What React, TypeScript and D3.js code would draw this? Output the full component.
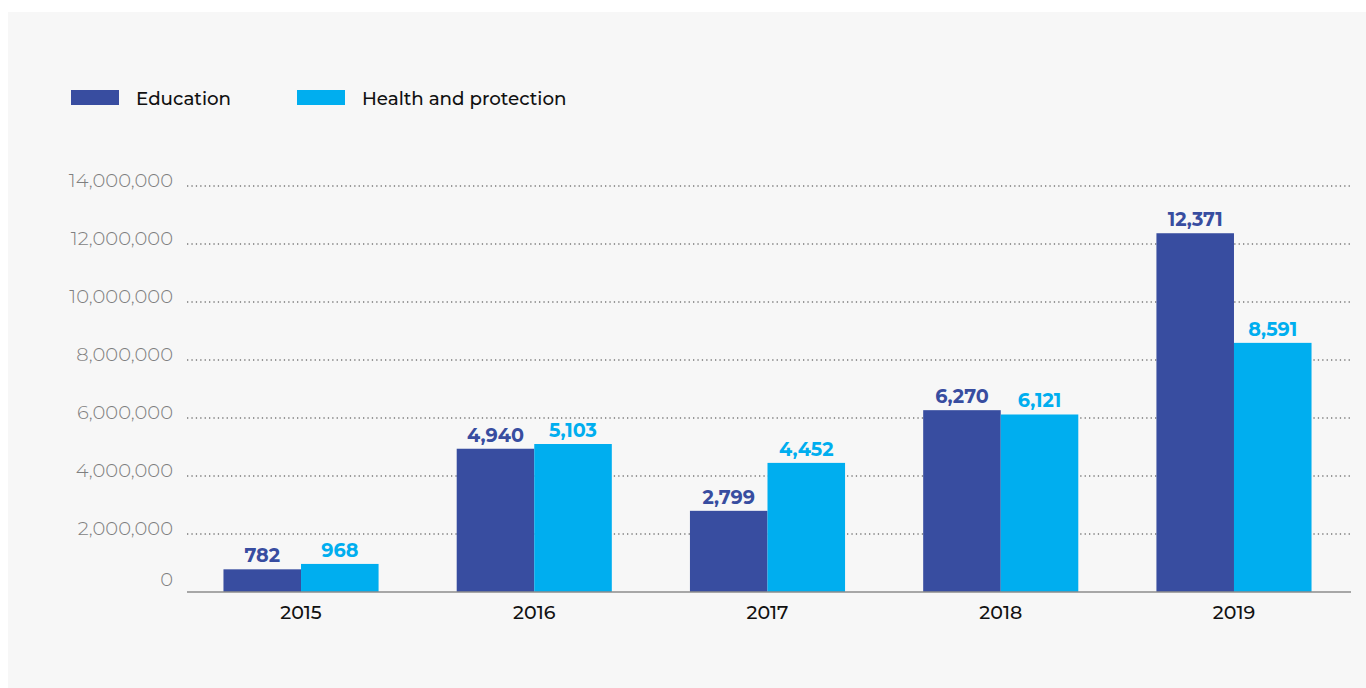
import React from "react";
import * as d3 from "d3";

const years = ["2015", "2016", "2017", "2018", "2019"];
const education = [782, 4940, 2799, 6270, 12371];
const health = [968, 5103, 4452, 6121, 8591];
const seriesNames = ["Education", "Health and protection"];
const seriesColors = ["#384da0", "#00aeef"];
const yTicks = [0, 2000000, 4000000, 6000000, 8000000, 10000000, 12000000, 14000000];

const W = 1366;
const H = 688;
const FONT = "Montserrat, Inter, 'Open Sans', sans-serif";

export default function App() {
  const x = d3
    .scaleBand<string>()
    .domain(years)
    .range([184.4, 1350.6])
    .paddingInner(0.335)
    .paddingOuter(0.1675);
  const sub = d3.scaleBand<number>().domain([0, 1]).range([0, x.bandwidth()]);
  const y = d3.scaleLinear().domain([0, 14000000]).range([592, 186]);
  const fmt = d3.format(",");
  const series = [education, health];
  const plotL = 187;
  const plotR = 1351;

  return (
    <svg
      width={W}
      height={H}
      style={{ position: "absolute", left: 0, top: 0 }}
      fontFamily={FONT}
    >
      <rect x={8} y={12} width={W - 8} height={H - 12} fill="#f7f7f7" />

      {/* legend */}
      {seriesNames.map((name, i) => {
        const lx = i === 0 ? 71 : 297;
        return (
          <g key={name}>
            <rect x={lx} y={90} width={48} height={15} fill={seriesColors[i]} />
            <text
              x={lx + 65}
              y={105}
              fontSize={18.3}
              fontWeight={500}
              fill="#111"
            >
              {name}
            </text>
          </g>
        );
      })}

      {/* gridlines */}
      {yTicks.slice(1).map((t) => (
        <line
          key={t}
          x1={plotL}
          x2={plotR}
          y1={y(t)}
          y2={y(t)}
          stroke="#7a7a7a"
          strokeWidth={1.3}
          strokeDasharray="1.3,3.1"
        />
      ))}

      {/* y tick labels */}
      {yTicks.map((t) => (
        <text
          key={t}
          x={173}
          y={t === 0 ? y(t) - 6 : y(t) + 1}
          textAnchor="end"
          fontSize={19.5}
          fontWeight={300}
          fill="#7f7f7f"
        >
          {fmt(t)}
        </text>
      ))}

      {/* bars */}
      {years.map((yr, gi) => (
        <g key={yr}>
          {series.map((s, si) => {
            const v = s[gi] * 1000;
            const bx = (x(yr) as number) + (sub(si) as number);
            return (
              <g key={si}>
                <rect
                  x={bx}
                  y={y(v)}
                  width={sub.bandwidth()}
                  height={y(0) - y(v)}
                  fill={seriesColors[si]}
                />
                <text
                  x={bx + sub.bandwidth() / 2}
                  y={y(v) - 7}
                  textAnchor="middle"
                  fontSize={19.2}
                  fontWeight={700}
                  fill={seriesColors[si]}
                >
                  {fmt(s[gi])}
                </text>
              </g>
            );
          })}
          <text
            x={(x(yr) as number) + x.bandwidth() / 2}
            y={619}
            textAnchor="middle"
            fontSize={19}
            fontWeight={500}
            fill="#111"
          >
            {yr}
          </text>
        </g>
      ))}

      {/* axis line */}
      <line x1={plotL} x2={plotR} y1={y(0)} y2={y(0)} stroke="#8c8c8c" strokeWidth={1.5} />
    </svg>
  );
}
